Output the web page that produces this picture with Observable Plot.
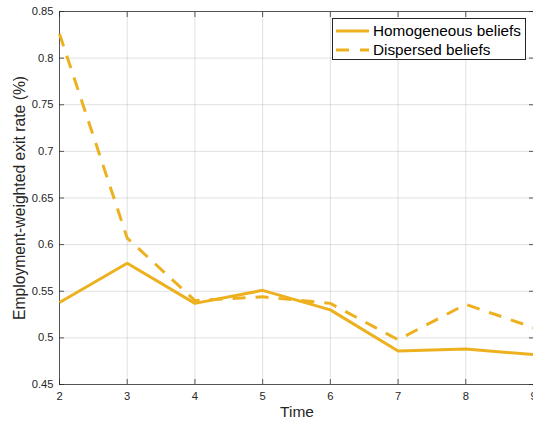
<!DOCTYPE html>
<html>
<head>
<meta charset="utf-8">
<script src="https://cdn.jsdelivr.net/npm/d3@7"></script>
<script src="https://cdn.jsdelivr.net/npm/@observablehq/plot@0.6"></script>
<style>
  body { margin: 0; background: #fff; font-family: "Liberation Sans", Arial, Helvetica, sans-serif; }
  #wrap { position: relative; width: 533px; height: 424px; overflow: hidden; }
  #legend { position: absolute; left: 332px; top: 18px; width: 192px; height: 40px;
            border: 1px solid #262626; background: #fff; font-size: 15.3px; color: #000; }
  .row { position: absolute; left: 0; height: 18px; display: flex; align-items: center; }
  .row svg { margin-left: 3px; margin-right: 4px; }
  #ylab { position: absolute; left: 20px; top: 198px; transform: translate(-50%, -50%) rotate(-90deg);
          white-space: nowrap; font-size: 15.7px; color: #262626; }
  #xlab { position: absolute; left: 297px; top: 412px; transform: translate(-50%, -50%);
          font-size: 15.5px; color: #262626; }
</style>
</head>
<body>
<div id="wrap"></div>
<script>
const time = [2, 3, 4, 5, 6, 7, 8, 9];
const homogeneous = [0.538, 0.580, 0.537, 0.551, 0.530, 0.486, 0.488, 0.482];
const dispersed = [0.826, 0.607, 0.540, 0.544, 0.537, 0.498, 0.536, 0.511];
const yTicks = [0.45, 0.5, 0.55, 0.6, 0.65, 0.7, 0.75, 0.8, 0.85];
const seriesNames = ["Homogeneous beliefs", "Dispersed beliefs"];
const color = "#EDB120";

const rows = [];
time.forEach((t, i) => {
  rows.push({time: t, value: homogeneous[i], series: seriesNames[0]});
  rows.push({time: t, value: dispersed[i], series: seriesNames[1]});
});

const axisColor = "#262626";
const chart = Plot.plot({
  width: 533, height: 424,
  marginLeft: 59, marginRight: 0, marginTop: 11, marginBottom: 40,
  style: {fontFamily: "'Liberation Sans', Arial, Helvetica, sans-serif", fontSize: "11px", color: axisColor, background: "#fff"},
  x: {domain: [2, 9], label: null},
  y: {domain: [0.45, 0.85], label: null},
  marks: [
    Plot.gridX(time, {stroke: "#000", strokeOpacity: 0.12}),
    Plot.gridY(yTicks, {stroke: "#000", strokeOpacity: 0.12}),
    Plot.frame({stroke: axisColor, strokeOpacity: 0.75}),
    Plot.axisX(time, {anchor: "bottom", tickSize: -5, text: null, strokeOpacity: 0.75, label: null}),
    Plot.axisX(time, {anchor: "top", tickSize: -5, text: null, strokeOpacity: 0.75, label: null}),
    Plot.axisY(yTicks, {anchor: "left", tickSize: -5, text: null, strokeOpacity: 0.75, label: null}),
    Plot.axisY(yTicks, {anchor: "right", tickSize: -5, text: null, strokeOpacity: 0.75, label: null}),
    Plot.axisX(time, {anchor: "bottom", tickSize: 0, tickPadding: 8, label: null, tickFormat: d => String(d), fontSize: 11.2}),
    Plot.axisY(yTicks, {anchor: "left", tickSize: 0, tickPadding: 6, label: null, tickFormat: d => String(+d.toFixed(2)), fontSize: 11.2}),
    Plot.line(rows.filter(d => d.series === seriesNames[0]), {x: "time", y: "value", stroke: color, strokeWidth: 3, strokeLinejoin: "miter", strokeLinecap: "butt"}),
    Plot.line(rows.filter(d => d.series === seriesNames[1]), {x: "time", y: "value", stroke: color, strokeWidth: 3, strokeLinecap: "butt", strokeDasharray: "13,10"})
  ]
});

const wrap = document.getElementById("wrap");
wrap.appendChild(chart);

const legend = document.createElement("div");
legend.id = "legend";
seriesNames.forEach((name, i) => {
  const row = document.createElement("div");
  row.className = "row";
  row.style.top = (i === 0 ? 3 : 22) + "px";
  const dash = i === 0 ? "" : 'stroke-dasharray="13,11"';
  row.innerHTML = `<svg width="33" height="6"><line x1="0" y1="3" x2="33" y2="3" stroke="${color}" stroke-width="3" ${dash}/></svg><span>${name}</span>`;
  legend.appendChild(row);
});
wrap.appendChild(legend);

const ylab = document.createElement("div");
ylab.id = "ylab";
ylab.textContent = "Employment-weighted exit rate (%)";
wrap.appendChild(ylab);

const xlab = document.createElement("div");
xlab.id = "xlab";
xlab.textContent = "Time";
wrap.appendChild(xlab);
</script>
</body>
</html>
